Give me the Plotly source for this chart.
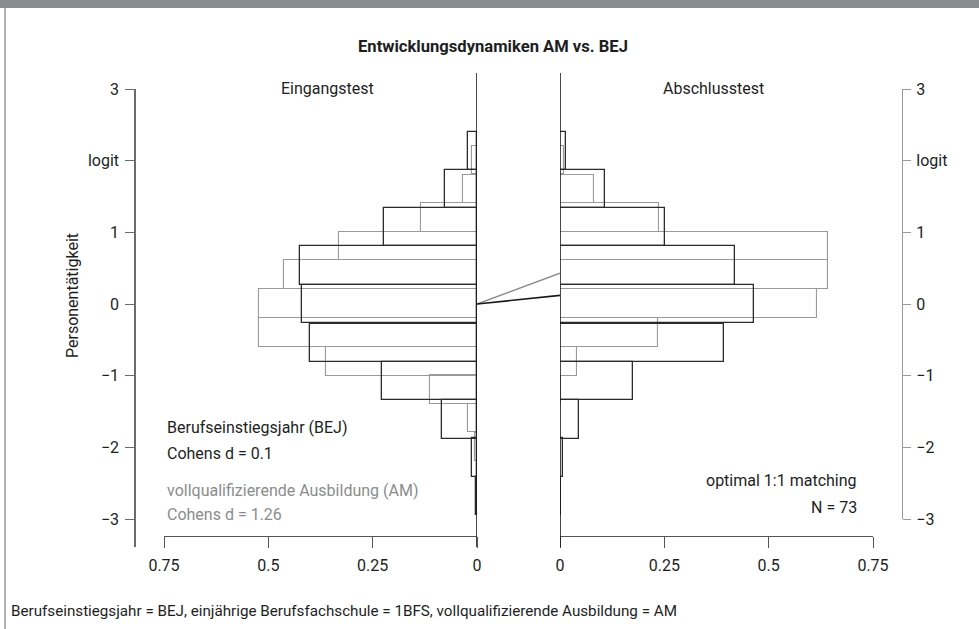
import plotly.graph_objects as go

# ---------------- data ----------------
# BEJ (Berufseinstiegsjahr) histogram bins (logit)
bej_bin_centers = [2.135, 1.60, 1.07, 0.535, 0.0, -0.54, -1.07, -1.61, -2.14, -2.68]
bej_bin_width = 0.535
bej_pre = [0.022, 0.076, 0.223, 0.425, 0.420, 0.400, 0.228, 0.083, 0.011, 0.003]
bej_post = [0.014, 0.108, 0.252, 0.420, 0.466, 0.393, 0.176, 0.046, 0.006, 0.002]

# AM (vollqualifizierende Ausbildung) histogram bins (logit)
am_bin_centers = [2.01, 1.605, 1.205, 0.81, 0.41, 0.01, -0.395, -0.80, -1.195, -1.59, -1.995]
am_bin_width = 0.40
am_pre = [0.013, 0.033, 0.135, 0.331, 0.463, 0.523, 0.523, 0.361, 0.113, 0.021, 0.005]
am_post = [0.010, 0.082, 0.238, 0.641, 0.641, 0.617, 0.234, 0.040, 0.003, 0.0, 0.0]

# group means (pre -> post)
mean_time = [0, 1]
bej_means = [0.0, 0.12]
am_means = [0.0, 0.43]

x_ticks = [0, 0.25, 0.5, 0.75]
x_ticktext = ["0", "0.25", "0.5", "0.75"]
y_ticks = [3, 2, 1, 0, -1, -2, -3]
y_ticktext = ["3", "logit", "1", "0", "\u22121", "\u22122", "\u22123"]

# ---------------- style ----------------
W, H = 979, 629
FONT = "Roboto, sans-serif"
BLACK = "#2b2b2b"
GRAY = "#9a9a9a"
TXT = "#1e1e1e"
FS = 16

def px(xp):
    return xp / W

def py(yp):
    return 1 - yp / H

# pixel layout
Y0PX = 304.0          # logit 0
SCALE = 71.7          # px per logit
DATA_TOP, DATA_BOT = 73, 547
yr = [(Y0PX - DATA_BOT) / SCALE, (Y0PX - DATA_TOP) / SCALE]

fig = go.Figure()

def hist(vals, centers, width, color, lw, xa):
    fig.add_trace(go.Bar(
        y=centers, x=vals, width=width, orientation="h", base=0,
        marker=dict(color="rgba(0,0,0,0)", line=dict(color=color, width=lw)),
        xaxis=xa, yaxis="y", showlegend=False, hoverinfo="skip"))

hist(am_pre, am_bin_centers, am_bin_width, GRAY, 1.1, "x")
hist(bej_pre, bej_bin_centers, bej_bin_width, BLACK, 1.3, "x")
hist(am_post, am_bin_centers, am_bin_width, GRAY, 1.1, "x2")
hist(bej_post, bej_bin_centers, bej_bin_width, BLACK, 1.3, "x2")

fig.add_trace(go.Scatter(x=mean_time, y=am_means, mode="lines",
                         line=dict(color="#8c8c8c", width=1.6),
                         xaxis="x3", yaxis="y", showlegend=False, hoverinfo="skip"))
fig.add_trace(go.Scatter(x=mean_time, y=bej_means, mode="lines",
                         line=dict(color="#1a1a1a", width=1.6),
                         xaxis="x3", yaxis="y", showlegend=False, hoverinfo="skip"))

# dummy traces to activate decorative y axes
fig.add_trace(go.Scatter(x=[None], y=[None], xaxis="x", yaxis="y2", showlegend=False, hoverinfo="skip"))
fig.add_trace(go.Scatter(x=[None], y=[None], xaxis="x2", yaxis="y3", showlegend=False, hoverinfo="skip"))

tickfont = dict(family=FONT, size=FS, color=TXT)
xax_common = dict(showgrid=False, zeroline=False, showline=True, linecolor="#555555", linewidth=1,
                  ticks="outside", ticklen=11, tickcolor="#555555", tickwidth=1,
                  tickvals=x_ticks, ticktext=x_ticktext, tickfont=tickfont, ticklabelstandoff=4,
                  anchor="free", position=py(536), fixedrange=True, automargin=False)

fig.update_layout(
    width=W, height=H, margin=dict(l=0, r=0, t=0, b=0, autoexpand=False),
    paper_bgcolor="white", plot_bgcolor="rgba(0,0,0,0)",
    barmode="overlay", bargap=0,
    xaxis=dict(domain=[px(164), px(477)], range=[0.75, 0], **xax_common),
    xaxis2=dict(domain=[px(560), px(873)], range=[0, 0.75], **xax_common),
    xaxis3=dict(domain=[px(477), px(560)], range=[0, 1], visible=False, anchor="free",
                position=0, automargin=False),
    yaxis=dict(domain=[py(DATA_BOT), py(DATA_TOP)], range=yr, visible=False,
               anchor="free", position=0, automargin=False),
    yaxis2=dict(domain=[py(547), py(89)], range=[(Y0PX - 547) / SCALE, 3],
                anchor="free", position=px(135), side="left", automargin=False,
                showline=True, linecolor="#6a6a6a", linewidth=1.5,
                ticks="outside", ticklen=9, tickcolor="#6a6a6a", tickwidth=1,
                tickvals=y_ticks, ticktext=y_ticktext, tickfont=tickfont, ticklabelstandoff=3,
                showgrid=False, zeroline=False),
    yaxis3=dict(domain=[py(519), py(89)], range=[-3, 3],
                anchor="free", position=px(902), side="right", automargin=False,
                showline=True, linecolor="#9a9a9a", linewidth=1.2,
                ticks="outside", ticklen=8, tickcolor="#9a9a9a", tickwidth=1,
                tickvals=y_ticks, ticktext=y_ticktext, tickfont=tickfont, ticklabelstandoff=2,
                showgrid=False, zeroline=False),
    font=dict(family=FONT, size=FS, color=TXT),
)

# zero reference lines of both panels
for xa in ["x", "x2"]:
    fig.add_shape(type="line", xref=xa, x0=0, x1=0, yref="paper",
                  y0=py(547), y1=py(73), line=dict(color="#1a1a1a", width=1.6), layer="above")

# frame decoration: top band and left border
fig.add_shape(type="rect", xref="paper", yref="paper", x0=0, x1=1, y0=py(8), y1=1,
              fillcolor="#8b8c90", line=dict(width=0), layer="below")
fig.add_shape(type="line", xref="paper", yref="paper", x0=px(5), x1=px(5), y0=0, y1=py(8),
              line=dict(color="#9a9a9a", width=1.5), layer="below")

def ann(text, x, y, xanchor="center", size=FS, color=TXT, bold=False, angle=0):
    fig.add_annotation(text=f"<b>{text}</b>" if bold else text, x=px(x), y=py(y),
                       xref="paper", yref="paper", xanchor=xanchor, yanchor="middle",
                       showarrow=False, textangle=angle,
                       font=dict(family=FONT, size=size, color=color))

ann("Entwicklungsdynamiken AM vs. BEJ", 493, 46, bold=True, size=16.6)
ann("Eingangstest", 327, 89)
ann("Abschlusstest", 713, 89)
ann("Personentätigkeit", 72, 296, angle=-90)
ann("Berufseinstiegsjahr (BEJ)", 165, 427, xanchor="left")
ann("Cohens d = 0.1", 165, 453, xanchor="left")
ann("vollqualifizierende Ausbildung (AM)", 165, 490, xanchor="left", color="#8c8c8c")
ann("Cohens d = 1.26", 165, 514, xanchor="left", color="#8c8c8c")
ann("optimal 1:1 matching", 859, 481, xanchor="right")
ann("N = 73", 859, 507, xanchor="right")
ann("Berufseinstiegsjahr = BEJ, einjährige Berufsfachschule = 1BFS, vollqualifizierende Ausbildung = AM",
    9, 611, xanchor="left", size=15.2)

fig.write_html("out.html", config={"displayModeBar": False},
               post_script="document.body.style.margin='0';")
